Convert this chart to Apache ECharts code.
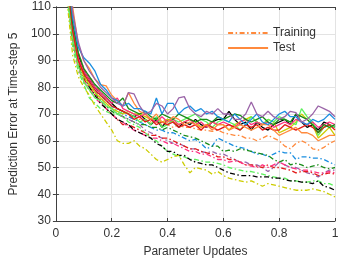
<!DOCTYPE html>
<html><head><meta charset="utf-8">
<script src="https://cdn.jsdelivr.net/npm/echarts@6/dist/echarts.min.js"></script>
<style>html,body{margin:0;padding:0;background:#fff}#c{width:345px;height:263px}</style>
</head><body><div id="c"></div>
<script>
const xStart = 0.04, xStep = 0.02;
const xTicks = ['0','0.2','0.4','0.6','0.8','1'];
const colors = {blue:'#1a8ee0', purple:'#9a64a8', orange:'#ff8a3d', black:'#000000', green:'#1a8c1a', red:'#e31a1a', pink:'#ff3080', yellow:'#cccc00', lime:'#5cf05c'};

const blueTest = [126,106,95,91,89,86,81,79,76,75,73,74,72,72,71,70,76,70,74,74,70,72,73,71,72,70,71,69,68,67,70,68,66,68,70,67,66,68,70,71,69,69,67,66,68,67,68,70,68];
const purpleTest = [128,108,97,90,86,83,80,78,76,74,73,78,77.5,73,70,71,74,73,70,72,76,76.5,72,70,69,71,70,72,70,70,68,68,70,74.5,70,69,71,69,68,69,71,70.5,67,68,70,73,72,71,69];
const orangeTest = [135,110,96,90,87,83,81,80.5,77,75,73,78,74,71,70,68,70,67,67,69,68,66,67,66,65,66,64,66,66,64,65,66,65,64,65,66,66,64,62,63,64,65,63,63,62,60,61,62,62];
const blackTest = [122,102,92,86,83,80,78,76,74,72,71,70,69,70,68,66,68,65,68,67,65,67,66,68,66,65,67,68,68,71,68,66,67,64,67,65,64,66,67,68,66,70,67,65,66,64,67,66,65];
const greenTest = [124,104,93,87,84,81,79,77,75,74,76,72,71,70,71,69,68,70,69,68,70,69,68,67,68,68,67,69,68,69,70,69.5,68,67,68,69,67,66,68,68,67,70,69,68,66,63,66,65,66];
const redTest = [120,101,90,85,82,79,77,75,73,72,71,70,68,69,67,68,66,67,66,67,65,66,65,66,64,66,65,64,65,66,65,64,66,65,66,64,65,64,64,66,65,64,65,66,65,63,65,66,64];
const pinkTest = [121,103,91,86,83,80,78,76,74,76,72,71,70,69,70,68,67,69,67,68,66,67,68,66,67,65,67,66,67,66,65,67,68,66,67,66,67,65,66,67,66,68,67,66,67,65,66,67,66];
const yellowTest = [118,100,90,84,81,78,76,74,72,71,70,71,70,70,69,68,68,67,68,67,66,67,68,67,65,66,67,66,66,64,66,67,68,69,67,66,68,67,63,64,65,67,70,68,66,61,63,65,62];
const limeTest = [116,98,88,82,79,76,75,73,72,70,71,70,69,67,68,66,69,65,66,68,67,68,69,70,68,67,65,67,68,67,66,64,66,69,67,66,68,67,69,68,67,66,72,69,67,62,65,66,65];

const yellowTrain = [112,92,84,80,77,73,70,67,64,60,59,59,60,58,57,55,53,52,53,54,54.5,51,48,50,49.5,49,47.5,48.5,47,46,45.5,45,44.5,45,44,43,44,43.5,43,42.5,42,41.5,41.5,41.5,42,41.5,41,40,39];
const blackTrain = [118,98,89,84,80,77,74,72,70,68,67,66,64,63,62,61,59,58,56,56,54.5,54.5,53,52,51.5,51,51,50,49,48,47.5,47,47,47,46.5,46.5,46.5,46,46,45.5,45,45,44.5,44.5,44,45,43,42.5,41.5];
const limeTrain = [114,95,86,81,76,74,72,71,70,70,69,67,66,65,63,61,60,58,56,55,54,54,53,53,52.5,52,52,51.5,51,50,49.5,49,48.5,48.5,48,47.5,47,46.5,46,46,45,45,44.5,44.5,45,45,44,44,43];
const blueTrain = [121,101,91,86,83,80,77,75,73,71,70,69,68,67,66,65,64,64,63,63,62,61,60,60.5,59,57,58,61,60,59,58,57.5,57,56,55,55,54,55,56,55.5,55.5,53,54,54,53.5,53.5,53,52,51];
const greenTrain = [119,99,90,85,81,78,75,73,71,70,69,68,67,66,66,65,65,64,65,64,63,62,61.5,61,60,59,58,58,56,56.5,56,57,56.5,56,55.5,55,54.5,53,52,53,51,51.5,51,50,50.5,51,50,49.5,50];
const orangeTrain = [125,104,93,87,84,81,78,76,74,72,71,70,69,68,68,67,67,66,66,65,66,65,65,64.5,64,64,63.5,64,63,62.5,62,62,61,61,60,61,62,61,60,58,57,59,60,59,57,56.5,57.5,59,60];
const purpleTrain = [120,100,90,85,82,79,76,74,72,70,69,68,67,66,64,63,62,61,60,59,59,58,57,57,56,55.5,56,55,55,54,53,52,52,51,51,50,48.5,50,52,51,50,50,49,48,47.5,46.5,48,49,49];
const redTrain = [117,98,88,83,80,77,75,72,70,68,66,66,65,64,63,62,62,61,61,60,59,58,57,57,56,55.5,55,54,54,53,53,52,51,51,50.5,50,51,50,50,49.5,49,48,48.5,48.5,48,47,47.5,48,47.5];
const pinkTrain = [116,97,87,82,79,76,74,72,70,68,67,65,64,63,62,61,61,60,59,59,58,57,56,56,55,55,54,53,53,52,52.5,52,51,50.5,50,51,50,51,52,51,50,49.5,49,49,48.5,48,48,48.5,48];

const trainSets = [['orange',orangeTrain],['blue',blueTrain],['green',greenTrain],['purple',purpleTrain],['red',redTrain],['pink',pinkTrain],['lime',limeTrain],['black',blackTrain],['yellow',yellowTrain]];
const testSets = [['black',blackTest],['yellow',yellowTest],['lime',limeTest],['pink',pinkTest],['red',redTest],['green',greenTest],['orange',orangeTest],['blue',blueTest],['purple',purpleTest]];

const dashDot = [5,2.5,1.5,2.5];
function pts(arr){ return arr.map((v,i)=>[+(xStart+i*xStep).toFixed(2), v]); }
const series = [];
trainSets.forEach(([c,arr])=>series.push({name:c+' train',type:'line',data:pts(arr),symbol:'none',silent:true,
  lineStyle:{color:colors[c],width:1.3,type:dashDot},itemStyle:{color:colors[c]}}));
testSets.forEach(([c,arr])=>series.push({name:c+' test',type:'line',data:pts(arr),symbol:'none',silent:true,
  lineStyle:{color:colors[c],width:1.3,type:'solid'},itemStyle:{color:colors[c]}}));
series.push({name:'Training',type:'line',data:[],symbol:'none',lineStyle:{color:colors.orange,width:1.5,type:dashDot},itemStyle:{color:colors.orange}});
series.push({name:'Test',type:'line',data:[],symbol:'none',lineStyle:{color:colors.orange,width:1.5,type:'solid'},itemStyle:{color:colors.orange}});

const font = 'Liberation Sans, Arial, sans-serif';
const axisCol = '#404040';
const txtCol = '#333333';
const chart = echarts.init(document.getElementById('c'));
chart.setOption({
  animation:false,
  grid:{left:42,right:10,top:7,bottom:35},
  legend:{data:['Training','Test'],orient:'vertical',right:24,top:22,itemWidth:40,itemHeight:10,itemGap:3,
    itemStyle:{opacity:0},
    textStyle:{fontFamily:font,fontSize:12,color:txtCol}},
  xAxis:[{type:'value',min:0,max:1,interval:0.2,name:'Parameter Updates',nameLocation:'middle',nameGap:25,
    nameTextStyle:{fontFamily:font,fontSize:12,color:txtCol},
    axisLine:{lineStyle:{color:axisCol}},axisTick:{inside:true,length:3,lineStyle:{color:axisCol}},
    splitLine:{lineStyle:{color:'#e3e3e3'}},
    axisLabel:{fontFamily:font,fontSize:12,color:txtCol,margin:7,formatter:(v)=>xTicks[Math.round(v/0.2)]}},
    {type:'value',position:'top',min:0,max:1,interval:0.2,axisLine:{show:true,lineStyle:{color:axisCol}},
    axisTick:{inside:true,length:3,lineStyle:{color:axisCol}},axisLabel:{show:false},splitLine:{show:false}}],
  yAxis:[{type:'value',min:30,max:110,interval:10,name:'Prediction Error at Time-step 5',nameLocation:'middle',nameGap:28,
    nameTextStyle:{fontFamily:font,fontSize:12,color:txtCol},
    axisLine:{show:true,lineStyle:{color:axisCol}},axisTick:{show:true,inside:true,length:3,lineStyle:{color:axisCol}},
    splitLine:{lineStyle:{color:'#e3e3e3'}},
    axisLabel:{fontFamily:font,fontSize:12,color:txtCol,margin:5}},
    {type:'value',position:'right',min:30,max:110,interval:10,axisLine:{show:true,lineStyle:{color:axisCol}},
    axisTick:{show:true,inside:true,length:3,lineStyle:{color:axisCol}},axisLabel:{show:false},splitLine:{show:false}}],
  series:series
});
</script></body></html>
